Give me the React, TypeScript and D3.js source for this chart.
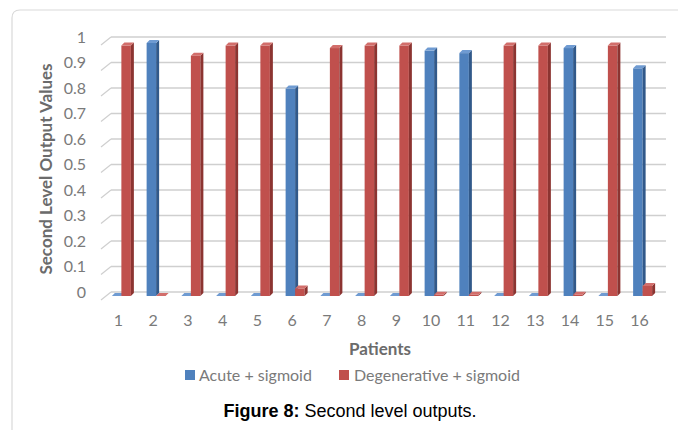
import React from 'react'
import * as d3 from 'd3'

const patients = ['1', '2', '3', '4', '5', '6', '7', '8', '9', '10', '11', '12', '13', '14', '15', '16']
const acute = [0, 1.0, 0, 0, 0, 0.82, 0, 0, 0, 0.97, 0.96, 0, 0, 0.98, 0, 0.9]
const degenerative = [0.99, 0, 0.95, 0.99, 0.99, 0.03, 0.98, 0.99, 0.99, 0.005, 0.005, 0.99, 0.99, 0.005, 0.99, 0.04]
const yTicks = [0, 0.1, 0.2, 0.3, 0.4, 0.5, 0.6, 0.7, 0.8, 0.9, 1]

const series = [
    { name: 'Acute + sigmoid', values: acute, front: '#4f81bd', side: '#31598a', top: '#6f9bd2', offset: -6.5 },
    { name: 'Degenerative + sigmoid', values: degenerative, front: '#c0504d', side: '#8c3431', top: '#d26e6b', offset: 3 },
]

const W = 678
const H = 430
const depth = 3
const barW = 9.5
const font = 'Lato, "Open Sans", sans-serif'

export default function App() {
    const x = d3.scaleBand().domain(patients).range([101, 657])
    const y = d3.scaleLinear().domain([0, 1]).range([296, 43])
    const yBack = d3.scaleLinear().domain([0, 1]).range([292, 37])

    const fmt = (v: number) => (v === 0 || v === 1 ? String(v) : v.toFixed(1))

    return (
        <div style={{ position: 'absolute', left: 0, top: 0 }}>
            <svg width={W} height={H} style={{ display: 'block', background: '#fff' }}>
                {/* frame */}
                <path d={`M12,${H + 5} L12,18 Q12,10 20,10 L${W + 5},10`} fill="none" stroke="#d9d9d9" strokeWidth={1.2} />

                {/* back wall grid */}
                {yTicks.map(t => (
                    <g key={t}>
                        <line x1={111} x2={666} y1={yBack(t)} y2={yBack(t)} stroke="#cfcfcf" strokeWidth={1.3} />
                        <line x1={101} x2={111} y1={yBack(t) + 8} y2={yBack(t)} stroke="#cfcfcf" strokeWidth={1.3} />
                        <text x={86} y={yBack(t) + 5.5} textAnchor="end" fontSize={16} fill="#7a7a7a" fontFamily={font}>
                            {fmt(t)}
                        </text>
                    </g>
                ))}

                {/* bars */}
                {series.map(s =>
                    s.values.map((v, i) => {
                        const cx = x(patients[i])! + x.bandwidth() / 2
                        const x0 = cx + s.offset
                        const x1 = x0 + barW
                        const yt = y(v)
                        const yb = y(0)
                        return (
                            <g key={s.name + i}>
                                <rect x={x0} y={yt} width={barW} height={Math.max(0, yb - yt)} fill={s.front} />
                                <path d={`M${x1},${yt} L${x1 + depth},${yt - depth} L${x1 + depth},${yb - depth} L${x1},${yb} Z`} fill={s.side} />
                                <path d={`M${x0},${yt} L${x1},${yt} L${x1 + depth},${yt - depth} L${x0 + depth},${yt - depth} Z`} fill={s.top} />
                            </g>
                        )
                    })
                )}

                {/* x labels */}
                {patients.map(p => (
                    <text key={p} x={x(p)! + x.bandwidth() / 2} y={326} textAnchor="middle" fontSize={16} fill="#7a7a7a" fontFamily={font}>
                        {p}
                    </text>
                ))}

                <text x={380} y={355} textAnchor="middle" fontSize={17} fontWeight="bold" fill="#6b6b6b" fontFamily={font}>
                    Patients
                </text>
                <text transform={`translate(52,169) rotate(-90)`} textAnchor="middle" fontSize={17} fontWeight="bold" fill="#6b6b6b" fontFamily={font}>
                    Second Level Output Values
                </text>

                {/* legend */}
                <rect x={185} y={370} width={10} height={10} fill={series[0].front} />
                <text x={199} y={381} fontSize={16} fill="#7a7a7a" fontFamily={font}>{series[0].name}</text>
                <rect x={339} y={370} width={10} height={10} fill={series[1].front} />
                <text x={354} y={381} fontSize={16} fill="#7a7a7a" fontFamily={font}>{series[1].name}</text>

                {/* caption */}
                <text x={350} y={417} textAnchor="middle" fontSize={18} fill="#000" fontFamily='"Liberation Sans", Arial, sans-serif'>
                    <tspan fontWeight="bold">Figure 8:</tspan> Second level outputs.
                </text>
            </svg>
        </div>
    )
}
